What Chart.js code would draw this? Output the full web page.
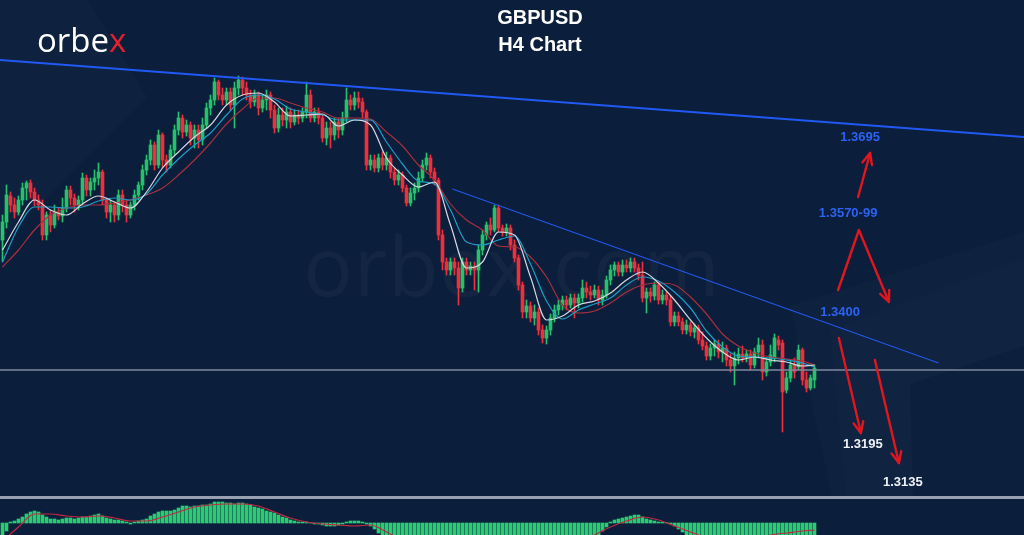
<!DOCTYPE html>
<html><head><meta charset="utf-8">
<script src="https://cdn.jsdelivr.net/npm/chart.js@4.4.1/dist/chart.umd.min.js"></script>
<style>
html,body{margin:0;padding:0;}
body{width:1024px;height:535px;overflow:hidden;position:relative;background:#0b1e3b;font-family:"Liberation Sans",Arial,sans-serif;}
#deco{position:absolute;left:0;top:0;}
#wm{position:absolute;left:0;width:1024px;top:223px;text-align:center;font-family:"Open Sans",sans-serif;font-size:82px;color:rgba(255,255,255,0.035);line-height:1;letter-spacing:1px;white-space:nowrap}
#main{position:absolute;left:0;top:0;width:1024px;height:496px;}
#sep{position:absolute;left:0;top:496px;width:1024px;height:3px;background:#98a1b2;}
#macd{position:absolute;left:0;top:499px;width:1024px;height:36px;}
.title{position:absolute;left:440px;width:200px;text-align:center;color:#fff;font-weight:bold;font-size:20px;line-height:20px;white-space:nowrap}
#logo{position:absolute;left:37px;top:23px;font-family:"Open Sans",sans-serif;font-size:33px;color:#fff;letter-spacing:0px;line-height:33px}
#logo span{color:#e3202b}
</style></head><body>
<svg id="deco" width="1024" height="535">
  <polygon points="0,0 88,0 147,97 0,245" fill="rgba(255,255,255,0.016)"/>
  <polygon points="790,306 1024,232 1024,496 832,496" fill="rgba(255,255,255,0.014)"/>
  <polygon points="830,330 1024,258 1024,496 846,496" fill="rgba(255,255,255,0.012)"/>
  <polygon points="910,384 1024,346 1024,496 913,496" fill="rgba(11,30,59,0.7)"/>
</svg>
<div id="wm">orbex.com</div>
<canvas id="main" width="1024" height="496"></canvas>
<div id="sep"></div>
<canvas id="macd" width="1024" height="36"></canvas>
<div class="title" style="top:7px">GBPUSD</div>
<div class="title" style="top:34px">H4 Chart</div>
<div id="logo">orbe<span>x</span></div>
<script>
// ---------------- DATA (GBPUSD H4) ----------------
const open = [
1.3560,1.3596,1.3648,1.3630,1.3616,1.3640,1.3664,1.3674,1.3656,1.3640,
1.3630,1.3570,1.3610,1.3590,1.3616,1.3608,1.3624,1.3660,1.3644,1.3630,
1.3640,1.3684,1.3660,1.3676,1.3684,1.3696,1.3640,1.3616,1.3630,1.3610,
1.3650,1.3630,1.3610,1.3630,1.3650,1.3670,1.3700,1.3720,1.3750,1.3710,
1.3770,1.3720,1.3710,1.3740,1.3780,1.3804,1.3776,1.3790,1.3764,1.3780,
1.3760,1.3790,1.3824,1.3840,1.3876,1.3850,1.3840,1.3856,1.3830,1.3864,
1.3880,1.3864,1.3850,1.3836,1.3850,1.3824,1.3840,1.3850,1.3820,1.3784,
1.3810,1.3800,1.3816,1.3796,1.3810,1.3804,1.3816,1.3850,1.3804,1.3816,
1.3804,1.3764,1.3784,1.3770,1.3796,1.3780,1.3804,1.3840,1.3830,1.3844,
1.3836,1.3816,1.3710,1.3720,1.3704,1.3724,1.3710,1.3724,1.3696,1.3680,
1.3690,1.3664,1.3634,1.3654,1.3664,1.3684,1.3710,1.3724,1.3696,1.3680,
1.3570,1.3516,1.3500,1.3516,1.3504,1.3464,1.3516,1.3500,1.3508,1.3500,
1.3540,1.3570,1.3590,1.3580,1.3624,1.3584,1.3576,1.3584,1.3550,1.3524,
1.3470,1.3416,1.3428,1.3404,1.3416,1.3380,1.3364,1.3380,1.3404,1.3420,
1.3430,1.3440,1.3430,1.3444,1.3434,1.3444,1.3464,1.3456,1.3450,1.3460,
1.3440,1.3450,1.3480,1.3500,1.3510,1.3496,1.3510,1.3504,1.3516,1.3504,
1.3490,1.3444,1.3456,1.3448,1.3470,1.3440,1.3450,1.3440,1.3396,1.3408,
1.3396,1.3380,1.3390,1.3376,1.3384,1.3360,1.3348,1.3328,1.3344,1.3352,
1.3336,1.3344,1.3320,1.3308,1.3324,1.3332,1.3324,1.3332,1.3310,1.3336,
1.3350,1.3296,1.3316,1.3324,1.3360,1.3354,1.3260,1.3284,1.3310,1.3306,
1.3340,1.3280,1.3264,1.3280];
const high = [
1.3610,1.3670,1.3656,1.3644,1.3648,1.3674,1.3678,1.3680,1.3664,1.3650,
1.3640,1.3616,1.3620,1.3630,1.3624,1.3644,1.3668,1.3668,1.3652,1.3648,
1.3694,1.3690,1.3684,1.3700,1.3714,1.3700,1.3644,1.3640,1.3636,1.3660,
1.3660,1.3640,1.3636,1.3660,1.3676,1.3710,1.3730,1.3760,1.3756,1.3780,
1.3774,1.3730,1.3750,1.3790,1.3816,1.3810,1.3800,1.3796,1.3790,1.3790,
1.3804,1.3834,1.3850,1.3884,1.3880,1.3864,1.3864,1.3864,1.3876,1.3888,
1.3886,1.3876,1.3860,1.3860,1.3856,1.3850,1.3860,1.3856,1.3830,1.3824,
1.3824,1.3828,1.3824,1.3820,1.3820,1.3824,1.3876,1.3860,1.3824,1.3824,
1.3810,1.3796,1.3796,1.3804,1.3804,1.3816,1.3864,1.3850,1.3856,1.3856,
1.3844,1.3820,1.3730,1.3730,1.3732,1.3736,1.3736,1.3730,1.3704,1.3700,
1.3696,1.3670,1.3664,1.3674,1.3696,1.3720,1.3734,1.3730,1.3704,1.3684,
1.3580,1.3524,1.3524,1.3524,1.3516,1.3524,1.3524,1.3516,1.3516,1.3550,
1.3580,1.3596,1.3604,1.3630,1.3630,1.3590,1.3592,1.3590,1.3560,1.3530,
1.3476,1.3440,1.3436,1.3430,1.3424,1.3390,1.3388,1.3412,1.3430,1.3440,
1.3448,1.3448,1.3452,1.3452,1.3452,1.3480,1.3476,1.3468,1.3470,1.3468,
1.3460,1.3488,1.3510,1.3516,1.3516,1.3520,1.3520,1.3524,1.3524,1.3512,
1.3516,1.3464,1.3464,1.3476,1.3476,1.3460,1.3456,1.3448,1.3416,1.3416,
1.3404,1.3400,1.3396,1.3392,1.3390,1.3376,1.3356,1.3352,1.3360,1.3360,
1.3356,1.3350,1.3332,1.3336,1.3344,1.3348,1.3340,1.3340,1.3344,1.3364,
1.3360,1.3324,1.3350,1.3372,1.3368,1.3360,1.3296,1.3320,1.3324,1.3350,
1.3344,1.3296,1.3290,1.3310];
const low = [
1.3516,1.3584,1.3616,1.3604,1.3610,1.3630,1.3640,1.3644,1.3628,1.3620,
1.3560,1.3560,1.3576,1.3584,1.3600,1.3596,1.3616,1.3630,1.3616,1.3620,
1.3630,1.3648,1.3648,1.3660,1.3670,1.3630,1.3604,1.3596,1.3596,1.3600,
1.3616,1.3596,1.3604,1.3620,1.3640,1.3660,1.3690,1.3710,1.3700,1.3704,
1.3704,1.3696,1.3704,1.3730,1.3770,1.3764,1.3768,1.3750,1.3744,1.3744,
1.3750,1.3784,1.3810,1.3830,1.3840,1.3830,1.3830,1.3820,1.3784,1.3850,
1.3850,1.3840,1.3824,1.3828,1.3810,1.3816,1.3820,1.3804,1.3774,1.3776,
1.3788,1.3784,1.3784,1.3790,1.3792,1.3796,1.3804,1.3796,1.3796,1.3792,
1.3756,1.3750,1.3744,1.3760,1.3764,1.3770,1.3796,1.3820,1.3820,1.3824,
1.3804,1.3700,1.3700,1.3696,1.3696,1.3700,1.3700,1.3684,1.3670,1.3670,
1.3656,1.3628,1.3628,1.3640,1.3656,1.3676,1.3700,1.3684,1.3670,1.3560,
1.3500,1.3490,1.3490,1.3490,1.3430,1.3456,1.3490,1.3490,1.3460,1.3456,
1.3530,1.3560,1.3570,1.3576,1.3576,1.3568,1.3568,1.3540,1.3516,1.3460,
1.3404,1.3404,1.3396,1.3390,1.3370,1.3354,1.3352,1.3370,1.3396,1.3410,
1.3420,1.3420,1.3424,1.3404,1.3424,1.3436,1.3444,1.3440,1.3444,1.3430,
1.3430,1.3444,1.3470,1.3488,1.3488,1.3488,1.3496,1.3496,1.3496,1.3480,
1.3436,1.3414,1.3436,1.3440,1.3432,1.3432,1.3430,1.3388,1.3388,1.3388,
1.3372,1.3372,1.3368,1.3364,1.3352,1.3340,1.3320,1.3320,1.3328,1.3324,
1.3316,1.3308,1.3296,1.3270,1.3312,1.3316,1.3316,1.3300,1.3304,1.3324,
1.3280,1.3288,1.3308,1.3316,1.3340,1.3176,1.3254,1.3276,1.3284,1.3300,
1.3270,1.3256,1.3260,1.3264];
const close = [
1.3596,1.3650,1.3630,1.3616,1.3640,1.3664,1.3674,1.3656,1.3640,1.3630,
1.3570,1.3610,1.3590,1.3616,1.3608,1.3624,1.3660,1.3644,1.3630,1.3640,
1.3684,1.3660,1.3676,1.3684,1.3696,1.3640,1.3616,1.3630,1.3610,1.3650,
1.3630,1.3610,1.3630,1.3650,1.3670,1.3700,1.3720,1.3750,1.3710,1.3770,
1.3720,1.3710,1.3740,1.3780,1.3804,1.3776,1.3790,1.3764,1.3780,1.3760,
1.3790,1.3824,1.3840,1.3876,1.3850,1.3840,1.3856,1.3830,1.3864,1.3880,
1.3864,1.3850,1.3836,1.3850,1.3824,1.3840,1.3850,1.3820,1.3784,1.3810,
1.3800,1.3816,1.3796,1.3810,1.3804,1.3816,1.3850,1.3804,1.3816,1.3804,
1.3764,1.3784,1.3770,1.3796,1.3780,1.3804,1.3840,1.3830,1.3844,1.3836,
1.3816,1.3710,1.3720,1.3704,1.3724,1.3710,1.3724,1.3696,1.3680,1.3690,
1.3664,1.3634,1.3654,1.3664,1.3684,1.3710,1.3724,1.3696,1.3680,1.3570,
1.3516,1.3500,1.3516,1.3504,1.3464,1.3516,1.3500,1.3508,1.3500,1.3540,
1.3570,1.3590,1.3580,1.3624,1.3584,1.3576,1.3584,1.3550,1.3524,1.3470,
1.3416,1.3428,1.3404,1.3416,1.3380,1.3364,1.3380,1.3404,1.3420,1.3430,
1.3440,1.3430,1.3444,1.3434,1.3444,1.3464,1.3456,1.3450,1.3460,1.3440,
1.3450,1.3480,1.3500,1.3510,1.3496,1.3510,1.3504,1.3516,1.3504,1.3490,
1.3444,1.3456,1.3448,1.3470,1.3440,1.3450,1.3440,1.3396,1.3408,1.3396,
1.3380,1.3390,1.3376,1.3384,1.3360,1.3348,1.3328,1.3344,1.3352,1.3336,
1.3344,1.3320,1.3308,1.3324,1.3332,1.3324,1.3332,1.3310,1.3336,1.3350,
1.3296,1.3316,1.3330,1.3364,1.3350,1.3256,1.3284,1.3310,1.3296,1.3340,
1.3280,1.3264,1.3284,1.3304];

// moving averages, read at every 4th candle
const maIndex = [0,4,8,12,16,20,24,28,32,36,40,44,48,52,56,60,64,68,72,76,80,84,88,92,96,100,
                 104,108,112,116,120,124,128,132,136,140,144,148,152,156,160,164,168,172,176,180,184,188,192,196,200,203];
const maFast = [1.3540,1.3596,1.3640,1.3620,1.3610,1.3632,1.3648,1.3636,1.3624,1.3656,1.3704,1.3736,1.3766,1.3790,1.3830,1.3850,1.3854,1.3836,1.3808,1.3810,1.3812,1.3788,1.3800,1.3790,1.3724,1.3690,
                1.3666,1.3676,1.3590,1.3504,1.3516,1.3576,1.3570,1.3486,1.3400,1.3408,1.3430,1.3438,1.3454,1.3480,1.3496,1.3474,1.3440,1.3400,1.3364,1.3336,1.3320,1.3326,1.3320,1.3316,1.3308,1.3310];
const maMid  = [1.3516,1.3586,1.3626,1.3626,1.3624,1.3626,1.3638,1.3644,1.3640,1.3652,1.3690,1.3722,1.3750,1.3774,1.3810,1.3842,1.3850,1.3842,1.3822,1.3816,1.3810,1.3800,1.3800,1.3800,1.3756,1.3712,
                1.3678,1.3672,1.3620,1.3556,1.3550,1.3560,1.3568,1.3512,1.3438,1.3402,1.3420,1.3432,1.3444,1.3470,1.3486,1.3478,1.3456,1.3424,1.3378,1.3346,1.3328,1.3326,1.3324,1.3320,1.3314,1.3306];
const maSlow = [1.3506,1.3540,1.3580,1.3610,1.3624,1.3630,1.3630,1.3634,1.3640,1.3650,1.3664,1.3690,1.3720,1.3754,1.3792,1.3822,1.3844,1.3844,1.3834,1.3824,1.3816,1.3804,1.3804,1.3802,1.3776,1.3748,
                1.3710,1.3680,1.3632,1.3600,1.3580,1.3548,1.3546,1.3526,1.3486,1.3430,1.3414,1.3418,1.3434,1.3456,1.3470,1.3474,1.3470,1.3446,1.3412,1.3372,1.3348,1.3334,1.3326,1.3322,1.3318,1.3310];

// MACD histogram (one per candle) and signal line (every 4th candle)
const macdHist = [
-0.0014,-0.0008,0.0001,0.0002,0.0004,0.0006,0.0009,0.0011,0.0012,0.0011,
0.0008,0.0006,0.0004,0.0004,0.0003,0.0004,0.0005,0.0005,0.0004,0.0005,
0.0006,0.0006,0.0007,0.0008,0.0009,0.0007,0.0005,0.0004,0.0003,0.0003,
0.0002,0.0001,-0.0001,0.0001,0.0002,0.0003,0.0004,0.0007,0.0009,0.0011,
0.0012,0.0012,0.0012,0.0013,0.0015,0.0017,0.0017,0.0016,0.0017,0.0017,
0.0018,0.0018,0.0019,0.0021,0.0021,0.0021,0.0020,0.0020,0.0019,0.0020,
0.0020,0.0019,0.0018,0.0016,0.0015,0.0014,0.0012,0.0011,0.0010,0.0008,
0.0006,0.0005,0.0003,0.0002,0.0001,0.0001,0.0001,0.00005,-0.0001,-0.0001,
-0.0002,-0.0003,-0.0003,-0.0003,-0.0002,-0.0001,0.0001,0.0002,0.0002,0.0002,
0.0001,-0.0001,-0.0003,-0.0006,-0.0010,-0.0014,-0.0018,-0.0020,-0.0022,-0.0024,
-0.0026,-0.0028,-0.0028,-0.0027,-0.0025,-0.0022,-0.0020,-0.0020,-0.0022,-0.0028,
-0.0033,-0.0036,-0.0038,-0.0038,-0.0040,-0.0038,-0.0036,-0.0034,-0.0032,-0.0029,
-0.0025,-0.0021,-0.0018,-0.0015,-0.0014,-0.0013,-0.0013,-0.0014,-0.0017,-0.0022,
-0.0028,-0.0031,-0.0033,-0.0034,-0.0035,-0.0036,-0.0035,-0.0033,-0.0031,-0.0029,
-0.0027,-0.0025,-0.0023,-0.0021,-0.0019,-0.0017,-0.0015,-0.0014,-0.0013,-0.0012,
-0.0008,-0.0004,0.0001,0.0003,0.0004,0.0005,0.0006,0.0007,0.0008,0.0008,
0.0006,0.0004,0.0003,0.0002,0.0001,0.0001,0.00005,-0.0001,-0.0003,-0.0006,
-0.0009,-0.0012,-0.0015,-0.0017,-0.0019,-0.0021,-0.0023,-0.0024,-0.0024,-0.0025,
-0.0025,-0.0026,-0.0027,-0.0026,-0.0025,-0.0024,-0.0023,-0.0022,-0.0021,-0.0019,
-0.0019,-0.0018,-0.0017,-0.0015,-0.0015,-0.0018,-0.0018,-0.0017,-0.0016,-0.0015,
-0.0016,-0.0016,-0.0015,-0.0014];
const macdSignal = [-0.0018,-0.0004,0.0009,0.0009,0.0007,0.0006,0.0007,0.0005,0.0002,0.0002,0.0006,0.0011,0.0016,0.0018,0.0019,0.0019,0.0017,0.0011,0.0005,0.0001,-0.0001,-0.0002,-0.0003,-0.0002,-0.0009,-0.0018,
                    -0.0026,-0.0030,-0.0032,-0.0034,-0.0033,-0.0030,-0.0026,-0.0026,-0.0028,-0.0027,-0.0022,-0.0012,-0.0004,0.0002,0.0006,0.0003,-0.0003,-0.0009,-0.0015,-0.0020,-0.0022,-0.0018,-0.0012,-0.0010,-0.0008,-0.0007];

// current price level and trend lines (index, price)
const currentPrice = 1.3300;
const upperTrend = [[-0.625, 1.3920], [255.375, 1.3766]];
const lowerTrend = [[112.5, 1.3662], [234, 1.3314]];

// target annotations
const targetText  = ['1.3695', '1.3570-99', '1.3400', '1.3195', '1.3135'];
const targetIdx   = [214.4, 211.4, 209.4, 215.1, 225.1];
const targetPrice = [1.3766, 1.3614, 1.3416, 1.3152, 1.3076];
const targetBlue  = [true, true, true, false, false];
const arrowPaths = [
  [[213.9, 1.3646], [216.9, 1.3734]],
  [[208.9, 1.3460], [214.1, 1.3580], [221.6, 1.3436]],
  [[209.1, 1.3364], [214.6, 1.3174]],
  [[218.1, 1.3320], [224.1, 1.3114]]
];

// ---------------- STYLE ----------------
const GREEN = '#27c16b', RED = '#ef2f3b';
const X_MIN = -0.625, X_MAX = 255.375;
const idx = open.map((_, i) => i);
const col = idx.map(i => close[i] >= open[i] ? GREEN : RED);

const annotate = {
  id: 'annotate',
  afterDatasetsDraw(chart) {
    const {ctx, scales: {x, y}} = chart;
    ctx.save();
    ctx.strokeStyle = '#e2161e'; ctx.lineWidth = 2.4; ctx.lineCap = 'round'; ctx.lineJoin = 'round';
    arrowPaths.forEach(path => {
      const pts = path.map(([i, p]) => [x.getPixelForValue(i), y.getPixelForValue(p)]);
      ctx.beginPath();
      pts.forEach(([px, py], k) => k ? ctx.lineTo(px, py) : ctx.moveTo(px, py));
      ctx.stroke();
      const [ax, ay] = pts[pts.length - 2], [bx, by] = pts[pts.length - 1];
      const ang = Math.atan2(by - ay, bx - ax);
      ctx.beginPath();
      [-1, 1].forEach(s => {
        ctx.moveTo(bx, by);
        ctx.lineTo(bx - 12 * Math.cos(ang + s * 0.42), by - 12 * Math.sin(ang + s * 0.42));
      });
      ctx.stroke();
    });
    ctx.font = 'bold 13px "Liberation Sans", Arial, sans-serif';
    ctx.textAlign = 'center'; ctx.textBaseline = 'middle';
    targetText.forEach((t, k) => {
      ctx.fillStyle = targetBlue[k] ? '#2c62f2' : '#eef1f6';
      ctx.fillText(t, x.getPixelForValue(targetIdx[k]), y.getPixelForValue(targetPrice[k]));
    });
    ctx.restore();
  }
};

const lineDs = (pts, color, width, order, extra) => Object.assign({
  type: 'line', data: pts, borderColor: color, borderWidth: width, pointRadius: 0,
  fill: false, order: order, cubicInterpolationMode: 'monotone'
}, extra || {});

const baseOpts = (ymin, ymax) => ({
  responsive: false, animation: false, maintainAspectRatio: false, events: [],
  layout: { padding: 0 },
  plugins: { legend: { display: false }, tooltip: { enabled: false }, title: { display: false } },
  scales: {
    x: { type: 'linear', min: X_MIN, max: X_MAX, display: false, offset: false },
    y: { type: 'linear', min: ymin, max: ymax, display: false }
  }
});

new Chart(document.getElementById('main'), {
  type: 'bar',
  data: { datasets: [
    { type: 'bar', data: idx.map(i => ({ x: i, y: [low[i], high[i]] })), backgroundColor: col,
      barThickness: 1, grouped: false, borderWidth: 0, order: 6 },
    { type: 'bar', data: idx.map(i => ({ x: i, y: [open[i], close[i]] })), backgroundColor: col,
      barThickness: 3, grouped: false, borderWidth: 0, minBarLength: 1, order: 5 },
    lineDs(maIndex.map((k, j) => ({ x: k, y: maSlow[j] })), '#a8303c', 1.2, 4),
    lineDs(maIndex.map((k, j) => ({ x: k, y: maMid[j] })), '#1f9cc6', 1.2, 3),
    lineDs(maIndex.map((k, j) => ({ x: k, y: maFast[j] })), '#d6d9e2', 1.2, 2),
    lineDs([{ x: X_MIN, y: currentPrice }, { x: X_MAX, y: currentPrice }], '#7f8a9c', 1.5, 1, { cubicInterpolationMode: 'default' }),
    lineDs(upperTrend.map(([i, p]) => ({ x: i, y: p })), '#2159f5', 2, 1, { cubicInterpolationMode: 'default' }),
    lineDs(lowerTrend.map(([i, p]) => ({ x: i, y: p })), '#2456e8', 1.3, 1, { cubicInterpolationMode: 'default' })
  ] },
  options: baseOpts(1.3048, 1.4040),
  plugins: [annotate]
});

new Chart(document.getElementById('macd'), {
  type: 'bar',
  data: { datasets: [
    { type: 'bar', data: idx.map(i => ({ x: i, y: macdHist[i] })), backgroundColor: '#2ccb73',
      barThickness: 3, grouped: false, borderWidth: 0, order: 2 },
    lineDs(maIndex.map((k, j) => ({ x: k, y: macdSignal[j] })), '#c2283f', 1.2, 1)
  ] },
  options: baseOpts(-0.0012, 0.0024)
});
</script>
</body></html>
